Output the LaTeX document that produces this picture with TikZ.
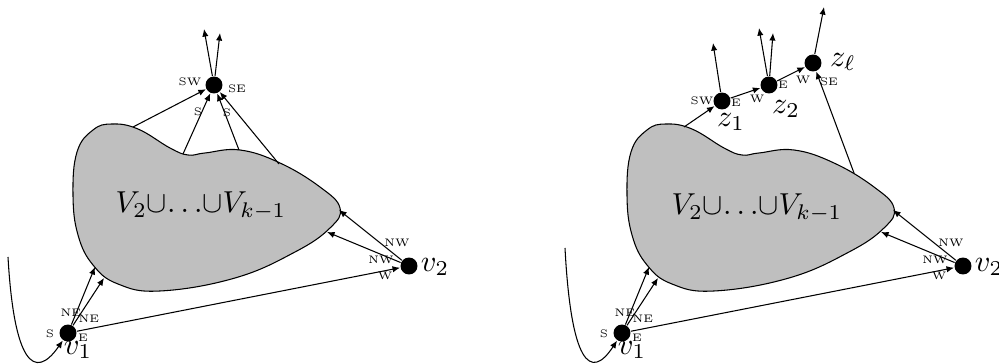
\documentclass[tikz,border=0pt]{standalone}
\usetikzlibrary{arrows.meta}
\newcommand{\myblobpath}{plot[smooth cycle, tension=0.7] coordinates {(73,195) (77,152) (93,130) (112,124) (138,129) (170,148) (188,155) (205,153) (240,150) (280,163) (320,187) (340,208) (330,228) (295,252) (235,278) (160,291) (118,284) (93,265) (78,235)}}
\begin{document}
\begin{tikzpicture}[x=0.33pt,y=-0.33pt,
  dot/.style={circle,fill=black,inner sep=0pt,minimum size=5.6pt},
  arr/.style={-{Latex[length=2.5pt,width=2.1pt]},line width=0.35pt},
  lab/.style={font=\fontsize{3.6}{4}\selectfont,inner sep=0pt},
  big/.style={inner sep=0pt},
  blob/.style={draw,fill=black!25,line width=0.35pt}]
\useasboundingbox (0,0) rectangle (999,364);
% ---------------- left picture ----------------
\draw[blob] \myblobpath;
\node[big] (lblL) at (201,206) {$V_2{\cup}{\ldots}{\cup}V_{k-1}$};
\node[dot] (v1) at (68,333) {};
\node[dot] (v2) at (409,266) {};
\node[dot] (t) at (214,85) {};
\node[big] (v1lab) at (78,350) {$v_1$};
\node[big] (v2lab) at (435,267) {$v_2$};
\coordinate (a1) at (95,267);
\coordinate (a2) at (104,278);
\coordinate (a3) at (339,210);
\coordinate (a4) at (327,232);
\coordinate (b1) at (133,127);
\coordinate (b2) at (183,154);
\coordinate (b3) at (239,150);
\coordinate (b4) at (279,164);
\coordinate (u1) at (204,29);
\coordinate (u2) at (220,33);
\coordinate (c0) at (8,257);
\draw[arr] (v1) -- (a1);
\draw[arr] (v1) -- (a2);
\draw[arr] (v1) -- (v2);
\draw[arr] (v2) -- (a3);
\draw[arr] (v2) -- (a4);
\draw[arr] (b1) -- (t);
\draw[arr] (b2) -- (t);
\draw[arr] (b3) -- (t);
\draw[arr] (b4) -- (t);
\draw[arr] (t) -- (u1);
\draw[arr] (t) -- (u2);
\draw[arr] (c0) .. controls (14,362) and (34,382) .. (v1);
\node[lab] (l1) at (190,82) {SW};
\node[lab] (l2) at (237,89) {SE};
\node[lab] (l3) at (198,112) {S};
\node[lab] (l4) at (227,113) {S};
\node[lab] (l5) at (397,243) {NW};
\node[lab] (l6) at (381,260) {NW};
\node[lab] (l7) at (385,276) {W};
\node[lab] (l8) at (71,313) {NE};
\node[lab] (l9) at (89,319) {NE};
\node[lab] (l10) at (50,334) {S};
\node[lab] (l11) at (83,338) {E};
% ---------------- right picture ----------------
\begin{scope}[shift={(554,0)}]
\draw[blob] \myblobpath;
\node[big] (lblR) at (203,208) {$V_2{\cup}{\ldots}{\cup}V_{k-1}$};
\node[dot] (w1) at (68,333) {};
\node[dot] (w2) at (409,266) {};
\node[big] (w1lab) at (78,350) {$v_1$};
\node[big] (w2lab) at (435,267) {$v_2$};
\coordinate (d1) at (95,267);
\coordinate (d2) at (104,278);
\coordinate (d3) at (339,210);
\coordinate (d4) at (327,232);
\coordinate (e0) at (11,248);
\draw[arr] (w1) -- (d1);
\draw[arr] (w1) -- (d2);
\draw[arr] (w1) -- (w2);
\draw[arr] (w2) -- (d3);
\draw[arr] (w2) -- (d4);
\draw[arr] (e0) .. controls (17,362) and (36,382) .. (w1);
\node[lab] (m5) at (397,243) {NW};
\node[lab] (m6) at (381,260) {NW};
\node[lab] (m7) at (385,276) {W};
\node[lab] (m8) at (71,313) {NE};
\node[lab] (m9) at (89,319) {NE};
\node[lab] (m10) at (50,334) {S};
\node[lab] (m11) at (83,338) {E};
\end{scope}
\node[dot] (z1) at (722,101) {};
\node[dot] (z2) at (769,85) {};
\node[dot] (zl) at (813,63) {};
\node[big] (z1lab) at (731,122) {$z_1$};
\node[big] (z2lab) at (786,109) {$z_2$};
\node[big] (zllab) at (843,62) {$z_\ell$};
\coordinate (f1) at (684,127);
\coordinate (f2) at (854,173);
\coordinate (g1) at (713,43);
\coordinate (g2) at (759,28);
\coordinate (g3) at (773,33);
\coordinate (g4) at (824,7);
\draw[arr] (f1) -- (z1);
\draw[arr] (z1) -- (z2);
\draw[arr] (z2) -- (zl);
\draw[arr] (f2) -- (zl);
\draw[arr] (z1) -- (g1);
\draw[arr] (z2) -- (g2);
\draw[arr] (z2) -- (g3);
\draw[arr] (zl) -- (g4);
\node[lab] (n1) at (702,101) {SW};
\node[lab] (n2) at (736,103) {E};
\node[lab] (n3) at (757,99) {W};
\node[lab] (n4) at (783,85) {E};
\node[lab] (n5) at (803,80) {W};
\node[lab] (n6) at (829,82) {SE};
\end{tikzpicture}
\end{document}
